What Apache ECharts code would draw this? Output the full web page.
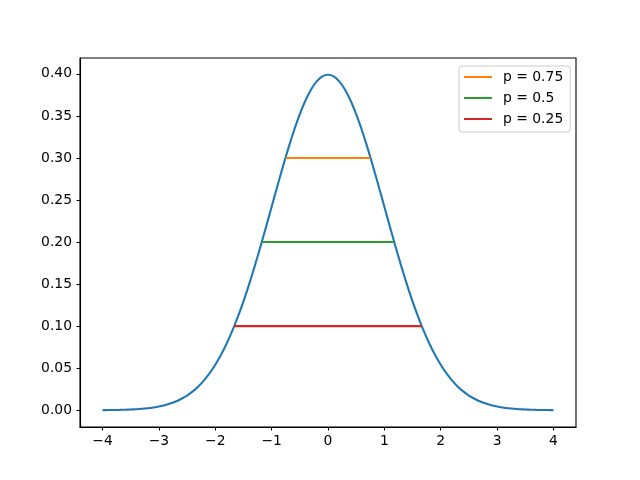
<!DOCTYPE html>
<html>
<head>
<meta charset="utf-8">
<script src="https://cdn.jsdelivr.net/npm/echarts@6/dist/echarts.min.js"></script>
<style>html,body{margin:0;padding:0;background:#fff}#c{width:640px;height:480px}</style>
</head>
<body>
<div id="c"></div>
<script>
// Curve values (standard normal density shape)
var xs = [-4.0,-3.9,-3.8,-3.7,-3.6,-3.5,-3.4,-3.3,-3.2,-3.1,-3.0,-2.9,-2.8,-2.7,-2.6,-2.5,-2.4,-2.3,-2.2,-2.1,-2.0,-1.9,-1.8,-1.7,-1.6,-1.5,-1.4,-1.3,-1.2,-1.1,-1.0,-0.9,-0.8,-0.7,-0.6,-0.5,-0.4,-0.3,-0.2,-0.1,0.0,0.1,0.2,0.3,0.4,0.5,0.6,0.7,0.8,0.9,1.0,1.1,1.2,1.3,1.4,1.5,1.6,1.7,1.8,1.9,2.0,2.1,2.2,2.3,2.4,2.5,2.6,2.7,2.8,2.9,3.0,3.1,3.2,3.3,3.4,3.5,3.6,3.7,3.8,3.9,4.0];
var ys = [0.0001,0.0002,0.0003,0.0004,0.0006,0.0009,0.0012,0.0017,0.0024,0.0033,0.0044,0.0060,0.0079,0.0104,0.0136,0.0175,0.0224,0.0283,0.0355,0.0440,0.0540,0.0656,0.0790,0.0940,0.1109,0.1295,0.1497,0.1714,0.1942,0.2179,0.2420,0.2661,0.2897,0.3123,0.3332,0.3521,0.3683,0.3814,0.3910,0.3970,0.3989,0.3970,0.3910,0.3814,0.3683,0.3521,0.3332,0.3123,0.2897,0.2661,0.2420,0.2179,0.1942,0.1714,0.1497,0.1295,0.1109,0.0940,0.0790,0.0656,0.0540,0.0440,0.0355,0.0283,0.0224,0.0175,0.0136,0.0104,0.0079,0.0060,0.0044,0.0033,0.0024,0.0017,0.0012,0.0009,0.0006,0.0004,0.0003,0.0002,0.0001];
var lineNames = ['p = 0.75','p = 0.5','p = 0.25'];
var lineLevels = [0.30, 0.20, 0.10];
var lineLeft = [-0.755, -1.175, -1.665];
var lineRight = [0.755, 1.175, 1.665];
var xTicks = [-4,-3,-2,-1,0,1,2,3,4];
var yTicks = [0.00,0.05,0.10,0.15,0.20,0.25,0.30,0.35,0.40];

var colors = ['#ff7f0e','#2ca02c','#d62728'];
var font = 'DejaVu Sans';
var fs = 13.9;
var lw = 2.08;

var series = [{
  name: 'pdf', type: 'line', symbol: 'none', silent: true, smooth: 0.3,
  data: xs.map(function(x,i){return [x, ys[i]];}),
  lineStyle: {color:'#1f77b4', width:lw}, itemStyle:{color:'#1f77b4'}
}];
lineNames.forEach(function(n,i){
  series.push({
    name: n, type: 'line', symbol: 'none', silent: true,
    data: [[lineLeft[i], lineLevels[i]],[lineRight[i], lineLevels[i]]],
    lineStyle:{color:colors[i], width:lw}, itemStyle:{color:colors[i]}
  });
});

var chart = echarts.init(document.getElementById('c'), null, {renderer:'canvas'});
chart.setOption({
  animation: false,
  backgroundColor: '#fff',
  grid: {left:80, right:64, top:58, bottom:53, show:true, borderColor:'#000', borderWidth:1.1, backgroundColor:'transparent'},
  xAxis: {
    type:'value', min:-4.4, max:4.4,
    splitLine:{show:false},
    axisLine:{show:true, onZero:false, lineStyle:{color:'#000', width:1.1}},
    axisTick:{show:true, length:3.5, customValues:xTicks, lineStyle:{color:'#000', width:1.1}},
    axisLabel:{customValues:xTicks, color:'#000', fontFamily:font, fontSize:fs, margin:7,
      formatter:function(v){return String(v).replace('-','\u2212');}}
  },
  yAxis: {
    type:'value', min:-0.01995, max:0.41884,
    splitLine:{show:false},
    axisLine:{show:true, onZero:false, lineStyle:{color:'#000', width:1.1}},
    axisTick:{show:true, length:3.5, customValues:yTicks, lineStyle:{color:'#000', width:1.1}},
    axisLabel:{customValues:yTicks, color:'#000', fontFamily:font, fontSize:fs, margin:8,
      formatter:function(v){return v.toFixed(2);}}
  },
  legend: {
    data: lineNames, orient:'vertical', left:459, top:66,
    icon:'rect', itemWidth:28, itemHeight:2, itemGap:5,
    padding:[3,7,5,5],
    backgroundColor:'rgba(255,255,255,0.8)', borderColor:'#cccccc', borderWidth:1, borderRadius:3,
    textStyle:{color:'#000', fontFamily:font, fontSize:fs, lineHeight:16, padding:[0,0,0,6]}
  },
  series: series
});
</script>
</body>
</html>
